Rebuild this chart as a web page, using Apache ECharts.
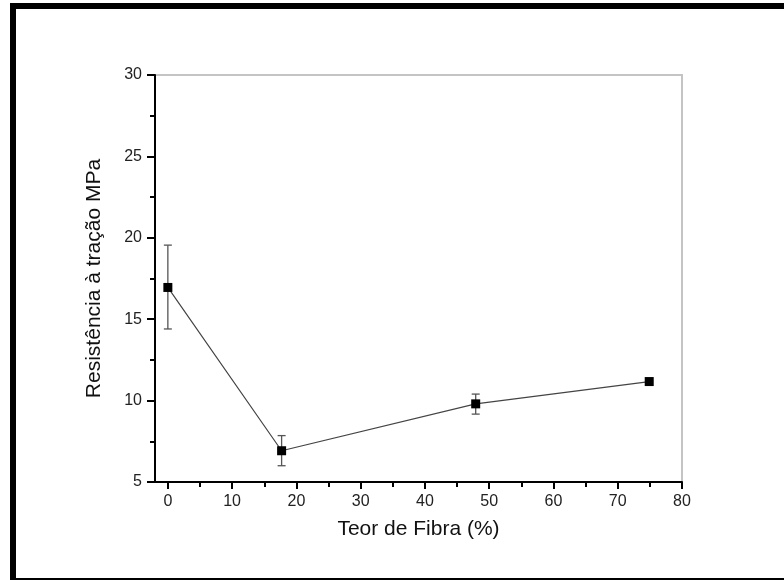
<!DOCTYPE html>
<html>
<head>
<meta charset="utf-8">
<script src="https://cdn.jsdelivr.net/npm/echarts@6/dist/echarts.min.js"></script>
<style>
html,body{margin:0;padding:0;background:#fff;}
#c{width:784px;height:580px;}
</style>
</head>
<body>
<div id="c"></div>
<script>
// Data
var fiberContent = [0, 17.7, 47.9, 74.9];
var tensileStrength = [16.95, 6.92, 9.8, 11.17];
var errLower = [14.4, 6.0, 9.17, null];
var errUpper = [19.55, 7.85, 10.4, null];
var xTickLabels = [0, 10, 20, 30, 40, 50, 60, 70, 80];
var xMinorTicks = [5, 15, 25, 35, 45, 55, 65, 75];
var xTitle = 'Teor de Fibra (%)';
var yTitle = 'Resistência à tração MPa';

var chart = echarts.init(document.getElementById('c'), null, {renderer: 'canvas'});
var FONT = '"Liberation Sans", Arial, sans-serif';

var lineData = fiberContent.map(function (x, i) { return [x, tensileStrength[i]]; });
var errData = [];
fiberContent.forEach(function (x, i) {
  if (errLower[i] != null && errUpper[i] != null) errData.push([x, errLower[i], errUpper[i]]);
});

var gridPos = {left: 155, top: 75, right: 102, bottom: 98};

var option = {
  backgroundColor: '#fff',
  animation: false,
  graphic: [
    {type: 'rect', shape: {x: 10, y: 3, width: 774, height: 6}, style: {fill: '#000'}, silent: true},
    {type: 'rect', shape: {x: 10, y: 3, width: 6, height: 577}, style: {fill: '#000'}, silent: true},
    {type: 'rect', shape: {x: 10, y: 578, width: 774, height: 2}, style: {fill: '#000'}, silent: true}
  ],
  grid: [
    Object.assign({show: true, borderColor: '#c4c4c4', borderWidth: 2, backgroundColor: 'transparent'}, gridPos),
    Object.assign({show: false}, gridPos)
  ],
  xAxis: [
    {
      type: 'value', gridIndex: 0, min: -2, max: 80, position: 'bottom',
      name: xTitle, nameLocation: 'middle', nameGap: 37,
      nameTextStyle: {fontFamily: FONT, fontSize: 21, color: '#111'},
      axisLine: {show: true, onZero: false, lineStyle: {color: '#000', width: 2}},
      axisTick: {show: true, length: 7, customValues: xTickLabels, lineStyle: {color: '#000', width: 2}},
      axisLabel: {customValues: xTickLabels, margin: 12, fontFamily: FONT, fontSize: 16, color: '#222'},
      splitLine: {show: false}
    },
    {
      type: 'value', gridIndex: 1, min: -2, max: 80, position: 'bottom',
      axisLine: {show: false},
      axisTick: {show: true, length: 5, customValues: xMinorTicks, lineStyle: {color: '#000', width: 2}},
      axisLabel: {show: false},
      splitLine: {show: false}
    }
  ],
  yAxis: [
    {
      type: 'value', gridIndex: 0, min: 5, max: 30, interval: 5, position: 'left',
      name: yTitle, nameLocation: 'middle', nameGap: 50,
      nameTextStyle: {fontFamily: FONT, fontSize: 21, color: '#111'},
      axisLine: {show: true, onZero: false, lineStyle: {color: '#000', width: 2}},
      axisTick: {show: true, length: 8, lineStyle: {color: '#000', width: 2}},
      minorTick: {show: true, splitNumber: 2, length: 5, lineStyle: {color: '#000', width: 2}},
      axisLabel: {margin: 13, fontFamily: FONT, fontSize: 16, color: '#222'},
      splitLine: {show: false}
    },
    {
      type: 'value', gridIndex: 1, min: 5, max: 30, interval: 5,
      axisLine: {show: false}, axisTick: {show: false}, axisLabel: {show: false}, splitLine: {show: false}
    }
  ],
  series: [
    {
      type: 'line', xAxisIndex: 0, yAxisIndex: 0,
      data: lineData,
      symbol: 'rect', symbolSize: 9,
      itemStyle: {color: '#000'},
      lineStyle: {color: '#444', width: 1.2},
      z: 3
    },
    {
      type: 'custom', xAxisIndex: 0, yAxisIndex: 0,
      data: errData,
      z: 2,
      renderItem: function (params, api) {
        var x = api.value(0);
        var lo = api.coord([x, api.value(1)]);
        var hi = api.coord([x, api.value(2)]);
        var hw = 4;
        var style = {stroke: '#555', lineWidth: 1.3};
        return {
          type: 'group',
          children: [
            {type: 'line', shape: {x1: hi[0], y1: hi[1], x2: lo[0], y2: lo[1]}, style: style},
            {type: 'line', shape: {x1: hi[0] - hw, y1: hi[1], x2: hi[0] + hw, y2: hi[1]}, style: style},
            {type: 'line', shape: {x1: lo[0] - hw, y1: lo[1], x2: lo[0] + hw, y2: lo[1]}, style: style}
          ]
        };
      }
    }
  ]
};
chart.setOption(option);
</script>
</body>
</html>
